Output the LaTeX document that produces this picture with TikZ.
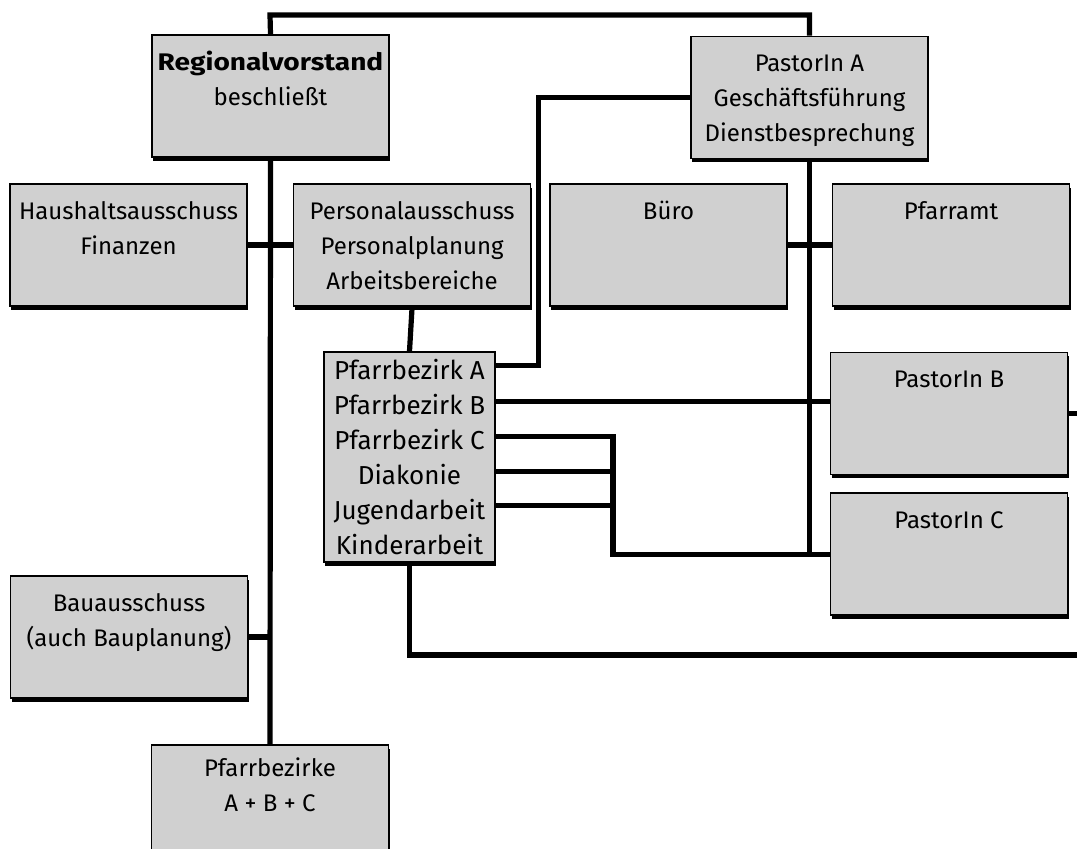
\documentclass[tikz,border=0pt]{standalone}
\usepackage{fontspec}
\usepackage{graphicx}
\setmainfont{Fira Sans}
\usetikzlibrary{positioning, shadows, calc}

\newcommand{\boxtext}[1]{\begin{tabular}[t]{@{}c@{}}#1\end{tabular}}

\begin{document}
\begin{tikzpicture}[
    x=0.5pt, y=-0.5pt,
    every node/.style={font=\fontsize{12}{17.5}\selectfont},
    plainbox/.style={rectangle, draw, line width=0.8pt, fill=gray!37, inner sep=0pt,
        drop shadow={shadow xshift=0.6pt, shadow yshift=-1.8pt, fill=black, opacity=1}},
    box/.style={plainbox, minimum width=118.5pt, minimum height=61pt, text height=17.5pt, text depth=43.5pt},
    listbox/.style={plainbox, align=center, minimum width=85.5pt, minimum height=105pt, font=\fontsize{13}{17.5}\selectfont},
    link/.style={line width=2.6pt},
]
\useasboundingbox (0,0) rectangle (1077,848);
\clip (0,0) rectangle (1077,848);

% left column
\node[box] (rv) at (270.5,96) {\boxtext{\scalebox{1.17}[1]{\textbf{Regionalvorstand}}\\beschließt}};
\node[box] (hh) at (128.5,245) {\boxtext{Haushaltsausschuss\\Finanzen}};
\node[box, right=22.5pt of hh] (pers) {\boxtext{Personalausschuss\\Personalplanung\\Arbeitsbereiche}};
\node[listbox] (bezirk) at (409.5,457) {Pfarrbezirk A\\Pfarrbezirk B\\Pfarrbezirk C\\Diakonie\\Jugendarbeit\\Kinderarbeit};
\node[box] (bau) at (129,637) {\boxtext{Bauausschuss\\(auch Bauplanung)}};
\node[box, text height=15.5pt, text depth=45.5pt] (pbz) at (270,806) {\boxtext{Pfarrbezirke\\A + B + C}};

% right column
\node[box] (pa) at (809.5,97.5) {\boxtext{PastorIn A\\Geschäftsführung\\Dienstbesprechung}};
\node[box] (buero) at (668.5,245) {Büro};
\node[box, right=22pt of buero] (pfarramt) {Pfarramt};
\node[box] (pb) at (949,413.5) {PastorIn B};
\node[box, below=8.5pt of pb] (pc) {PastorIn C};

\coordinate (top) at (270,15);
\coordinate (edge) at (1077,655);
\coordinate (cx) at (613,0);
\foreach \i/\dy in {1/14, 2/50, 3/85, 4/120, 5/154}
    \coordinate (r\i) at ($(bezirk.north east)+(0,\dy)$);

\draw[link] (rv.north) -- (top) -| (pa.north);
\draw[link] (rv.south) -- (pbz.north);
\draw[link] (hh.east) -- (pers.west);
\draw[link] (bau.east) -- (bau.east -| rv.south);
\draw[link] (pers.south) -- (bezirk.north);
\draw[link] (pa.south) -- (pa.south |- pc.west);
\draw[link] (buero.east) -- (pfarramt.west);
\draw[link] (r1) -- ++(43,0) |- (pa.west);
\draw[link] (r2) -- (r2 -| pb.west);
\draw[link] (r3) -| (cx |- pc.west) -- (pc.west);
\draw[link] (r4) -- (r4 -| cx);
\draw[link] (r5) -- (r5 -| cx);
\draw[link] (bezirk.south) |- (edge);
\draw[link] (pb.east) -- (pb.east -| edge);
\end{tikzpicture}
\end{document}
